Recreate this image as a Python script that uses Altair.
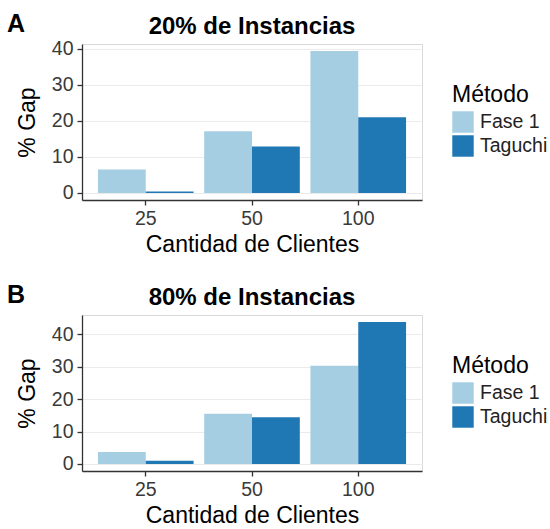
import altair as alt
import pandas as pd

clientes = ["25", "50", "100"]
metodos = ["Fase 1", "Taguchi"]
gap_20_fase1 = [6.5, 17.1, 39.4]
gap_20_taguchi = [0.4, 12.9, 21.0]
gap_80_fase1 = [3.7, 15.5, 30.3]
gap_80_taguchi = [1.0, 14.4, 43.8]
titles = ["20% de Instancias", "80% de Instancias"]
tags = ["A", "B"]
y_ticks = [0, 10, 20, 30, 40]
colors = ["#a6cee3", "#1f78b4"]

FONT = "Liberation Sans"
W, H = 340, 156


def panel(fase1, taguchi, title, tag):
    df = pd.DataFrame({
        "Clientes": clientes * 2,
        "Método": [metodos[0]] * len(clientes) + [metodos[1]] * len(clientes),
        "Gap": fase1 + taguchi,
    })
    ymax = max(fase1 + taguchi)
    pad = 0.05 * ymax
    bars = alt.Chart(df).mark_bar().encode(
        x=alt.X("Clientes:N", sort=clientes, title="Cantidad de Clientes",
                scale=alt.Scale(paddingInner=0.1, paddingOuter=0.15),
                axis=alt.Axis(labelAngle=0, grid=False, titlePadding=6)),
        xOffset=alt.XOffset("Método:N", sort=metodos,
                            scale=alt.Scale(paddingInner=0, paddingOuter=0)),
        y=alt.Y("Gap:Q", title="% Gap",
                scale=alt.Scale(domain=[-pad, ymax + pad], nice=False, zero=False),
                axis=alt.Axis(values=y_ticks, grid=True, gridColor="#ebebeb",
                              gridWidth=1.2, titlePadding=12)),
        y2=alt.datum(0),
        color=alt.Color("Método:N", sort=metodos,
                        scale=alt.Scale(domain=metodos, range=colors),
                        legend=alt.Legend(orient="none", legendX=370, legendY=40)),
    )
    lab_df = pd.DataFrame({"tag": [tag], "title": [title]})
    tag_text = alt.Chart(lab_df).mark_text(
        font=FONT, fontSize=25, fontWeight="bold", align="left",
        baseline="alphabetic", color="black"
    ).encode(x=alt.value(-75), y=alt.value(-12), text="tag:N")
    title_text = alt.Chart(lab_df).mark_text(
        font=FONT, fontSize=24, fontWeight="bold", align="center",
        baseline="alphabetic", color="black"
    ).encode(x=alt.value(W / 2), y=alt.value(-10), text="title:N")
    return alt.layer(bars, tag_text, title_text).properties(width=W, height=H)


top = panel(gap_20_fase1, gap_20_taguchi, titles[0], tags[0])
bottom = panel(gap_80_fase1, gap_80_taguchi, titles[1], tags[1])

chart = alt.vconcat(top, bottom, spacing=25).resolve_scale(
    y="independent", color="independent", x="independent"
).resolve_legend(color="independent").properties(
    padding={"left": 6, "top": 11, "right": 0, "bottom": 0}
).configure_view(
    stroke="#d9d9d9", strokeWidth=1
).configure_axis(
    domainColor="#333333", domainWidth=1.3, tickColor="#333333", tickWidth=1.3,
    tickSize=5, labelFont=FONT, labelFontSize=19.5, labelColor="#3a3a3a",
    labelPadding=4, titleFont=FONT, titleFontSize=23, titleFontWeight="normal",
    titleColor="black"
).configure_legend(
    titleFont=FONT, titleFontSize=23, titleFontWeight="normal", titleColor="black",
    labelFont=FONT, labelFontSize=19.5, labelColor="#222222",
    symbolType="square", symbolSize=460, symbolStrokeWidth=0, symbolOpacity=1,
    rowPadding=2, titlePadding=4, labelOffset=6
)

chart.save("out.html", embed_options={"renderer": "svg", "actions": False})
